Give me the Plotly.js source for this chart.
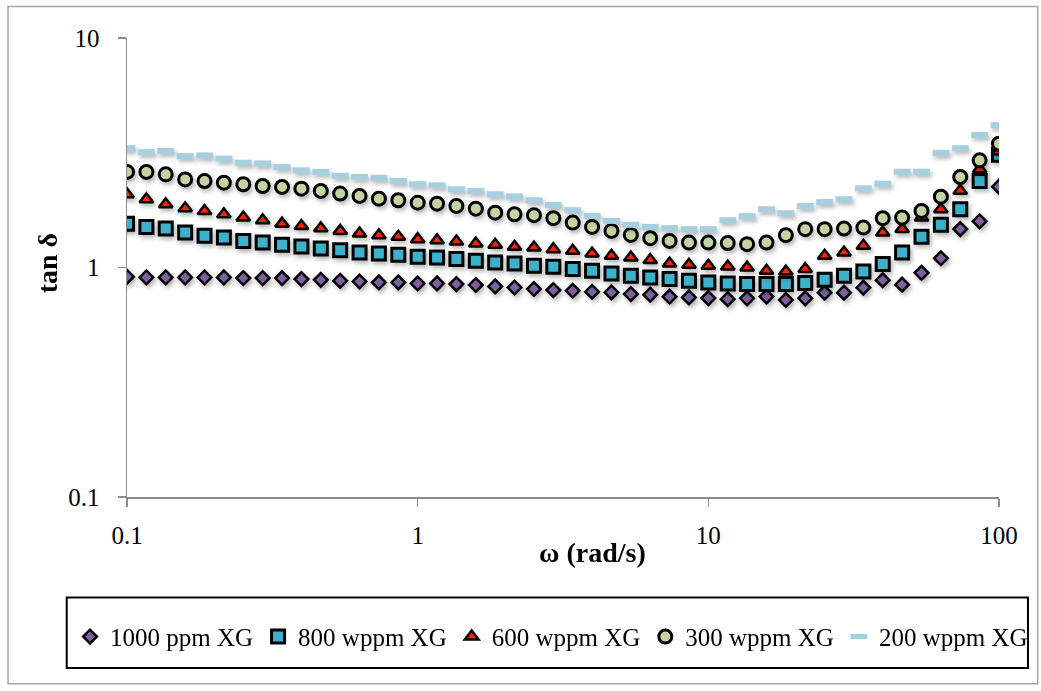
<!DOCTYPE html>
<html>
<head>
<meta charset="utf-8">
<script src="https://cdn.plot.ly/plotly-3.0.1.min.js"></script>
<style>
  html, body { margin: 0; padding: 0; background: #fff; }
  #chart { width: 1041px; height: 691px; }
  .scatterlayer .trace { filter: drop-shadow(2px 3px 2px rgba(0,0,0,0.28)); }
</style>
</head>
<body>
<div id="chart"></div>
<script>
// Angular frequency (rad/s)
const omega = [0.1, 0.1166, 0.1359, 0.1585, 0.1848, 0.2154, 0.2512, 0.2929, 0.3415, 0.3981,
  0.4642, 0.5412, 0.631, 0.7356, 0.8577, 1, 1.166, 1.359, 1.585, 1.848,
  2.154, 2.512, 2.929, 3.415, 3.981, 4.642, 5.412, 6.31, 7.356, 8.577,
  10, 11.66, 13.59, 15.85, 18.48, 21.54, 25.12, 29.29, 34.15, 39.81,
  46.42, 54.12, 63.1, 73.56, 85.77, 100];

const seriesNames = ["1000 ppm XG", "800 wppm XG", "600 wppm XG", "300 wppm XG", "200 wppm XG"];

const tan1000 = [0.911, 0.905, 0.905, 0.905, 0.905, 0.905, 0.899, 0.899, 0.899, 0.890,
  0.884, 0.875, 0.869, 0.861, 0.861, 0.852, 0.852, 0.847, 0.839, 0.827,
  0.818, 0.806, 0.797, 0.792, 0.784, 0.779, 0.766, 0.761, 0.746, 0.741,
  0.736, 0.728, 0.734, 0.747, 0.722, 0.734, 0.777, 0.777, 0.817, 0.881,
  0.842, 0.948, 1.097, 1.47, 1.59, 2.25];

const tan800 = [1.553, 1.503, 1.478, 1.42, 1.374, 1.35, 1.306, 1.284, 1.255, 1.234,
  1.21, 1.19, 1.162, 1.15, 1.136, 1.113, 1.105, 1.088, 1.069, 1.051,
  1.041, 1.017, 1.007, 0.984, 0.968, 0.942, 0.920, 0.905, 0.890, 0.875,
  0.861, 0.852, 0.847, 0.847, 0.847, 0.855, 0.884, 0.920, 0.961, 1.035,
  1.162, 1.36, 1.534, 1.795, 2.38, 3.1];

const tan600 = [2.085, 1.984, 1.887, 1.813, 1.764, 1.706, 1.65, 1.607, 1.553, 1.517,
  1.483, 1.444, 1.406, 1.383, 1.36, 1.329, 1.315, 1.297, 1.272, 1.255,
  1.23, 1.222, 1.202, 1.182, 1.15, 1.124, 1.105, 1.077, 1.041, 1.027,
  1.017, 1.01, 1.0, 0.968, 0.961, 0.984, 1.124, 1.162, 1.243, 1.42,
  1.47, 1.65, 1.795, 2.16, 2.68, 3.2];

const tan300 = [2.61, 2.61, 2.546, 2.42, 2.38, 2.342, 2.305, 2.266, 2.244, 2.206,
  2.156, 2.10, 2.05, 1.995, 1.963, 1.917, 1.897, 1.855, 1.805, 1.734,
  1.706, 1.69, 1.64, 1.569, 1.503, 1.444, 1.387, 1.342, 1.306, 1.284,
  1.284, 1.278, 1.264, 1.284, 1.383, 1.469, 1.469, 1.478, 1.493, 1.64,
  1.65, 1.764, 2.035, 2.48, 2.93, 3.46];

const tan200 = [3.31, 3.18, 3.22, 3.06, 3.08, 2.98, 2.86, 2.84, 2.74, 2.65,
  2.61, 2.51, 2.48, 2.46, 2.38, 2.305, 2.28, 2.19, 2.156, 2.085,
  2.04, 1.963, 1.873, 1.777, 1.679, 1.596, 1.534, 1.503, 1.483, 1.469,
  1.469, 1.607, 1.673, 1.795, 1.724, 1.855, 1.931, 1.984, 2.214, 2.317,
  2.614, 2.614, 3.16, 3.31, 3.78, 4.17];

const xTickVals = [0.1, 1, 10, 100];
const xTickText = ["0.1", "1", "10", "100"];
const yTickVals = [0.1, 1, 10];
const yTickText = ["0.1", "1", "10"];

const serif = "'Liberation Serif', 'Times New Roman', serif";

const traces = [
  { x: omega, y: tan1000, name: seriesNames[0], type: "scatter", mode: "markers",
    marker: { symbol: "diamond", size: 10.5, color: "#7D60A0", line: { color: "#000", width: 2.5 } } },
  { x: omega, y: tan800, name: seriesNames[1], type: "scatter", mode: "markers",
    marker: { symbol: "square", size: 13, color: "#3CB1CC", line: { color: "#000", width: 3 } } },
  { x: omega, y: tan600, name: seriesNames[2], type: "scatter", mode: "markers",
    marker: { symbol: "triangle-up", size: 12, color: "#FF2200", line: { color: "#000", width: 2.5 } } },
  { x: omega, y: tan300, name: seriesNames[3], type: "scatter", mode: "markers",
    marker: { symbol: "circle", size: 13, color: "#C3D4A0", line: { color: "#000", width: 3 } } },
  { x: omega, y: tan200, name: seriesNames[4], type: "scatter", mode: "markers",
    marker: { symbol: "line-ew", size: 12, color: "#A6CFE0", line: { color: "#A6CFE0", width: 6 } } }
];

// plot area in px: x 127..999.3, y 37.5..497
const L = 127, R = 999.3, T = 37.5, B = 497;
const px = v => (v - L) / (R - L);
const py = v => (B - v) / (B - T);

const layout = {
  width: 1041, height: 691,
  margin: { l: L, r: 1041 - R, t: T, b: 691 - B, pad: 0 },
  paper_bgcolor: "#fff", plot_bgcolor: "#fff",
  font: { family: serif, color: "#000", size: 24 },
  showlegend: true,
  xaxis: {
    type: "log", range: [-1, 2], tickvals: xTickVals, ticktext: xTickText,
    showgrid: false, zeroline: false, showline: true, linecolor: "#8c8c8c", linewidth: 1.5,
    ticks: "outside", ticklen: 8, tickwidth: 1.5, tickcolor: "#8c8c8c",
    tickfont: { family: serif, size: 25, color: "#000" }, ticklabelstandoff: 7
  },
  yaxis: {
    type: "log", range: [-1, 1], tickvals: yTickVals, ticktext: yTickText,
    showgrid: false, zeroline: false, showline: true, linecolor: "#8c8c8c", linewidth: 1.5,
    ticks: "outside", ticklen: 8, tickwidth: 1.5, tickcolor: "#8c8c8c",
    tickfont: { family: serif, size: 25, color: "#000" }, ticklabelstandoff: 13
  },
  legend: {
    orientation: "h", x: px(70), xanchor: "left", y: py(637), yanchor: "middle",
    font: { family: serif, size: 25, color: "#000" }, bgcolor: "rgba(0,0,0,0)", borderwidth: 0
  },
  annotations: [
    { text: "<b>ω (rad/s)</b>", xref: "paper", yref: "paper", x: px(593), y: py(553),
      xanchor: "center", yanchor: "middle", showarrow: false, font: { family: serif, size: 28, color: "#000" } },
    { text: "<b>tan δ</b>", xref: "paper", yref: "paper", x: px(47), y: py(263),
      xanchor: "center", yanchor: "middle", textangle: -90, showarrow: false, font: { family: serif, size: 28, color: "#000" } }
  ],
  shapes: [
    { type: "rect", xref: "paper", yref: "paper", x0: px(8), x1: px(1038), y0: py(6), y1: py(684),
      line: { color: "#a6a6a6", width: 1.5 }, fillcolor: "rgba(0,0,0,0)", layer: "below" },
    { type: "rect", xref: "paper", yref: "paper", x0: px(66.7), x1: px(1028.3), y0: py(597.7), y1: py(668.3),
      line: { color: "#000", width: 2 }, fillcolor: "rgba(0,0,0,0)", layer: "below" }
  ]
};

Plotly.newPlot("chart", traces, layout, { displayModeBar: false, staticPlot: true });
</script>
</body>
</html>
